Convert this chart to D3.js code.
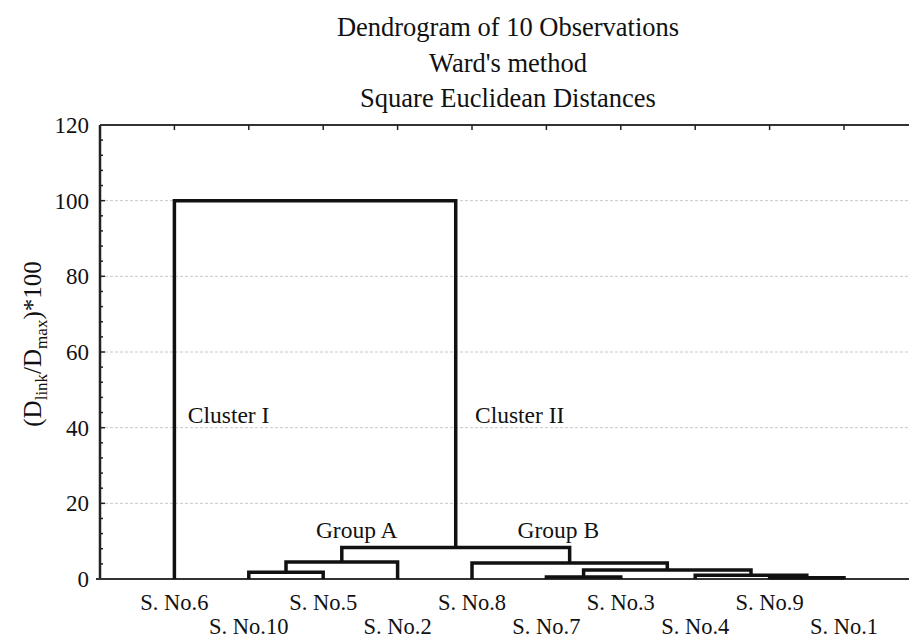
<!DOCTYPE html>
<html>
<head>
<meta charset="utf-8">
<script src="https://cdn.jsdelivr.net/npm/d3@7"></script>
<style>
  body { margin: 0; background: #fff; }
  svg text { font-family: "Liberation Serif", "Times New Roman", serif; fill: #111; }
</style>
</head>
<body>
<div id="chart"></div>
<script>
// leaves in plotted order
var leaves = ["S. No.6", "S. No.10", "S. No.5", "S. No.2", "S. No.8",
              "S. No.7", "S. No.3", "S. No.4", "S. No.9", "S. No.1"];

// linkage: ids 0-9 are leaves, every merge gets the next id (10, 11, ...)
var linkLeft   = [8, 5, 7, 1, 11, 4, 13, 16, 0];
var linkRight  = [9, 6, 10, 2, 12, 14, 3, 15, 17];
var linkHeight = [0.35, 0.5, 1.0, 1.8, 2.4, 4.2, 4.5, 8.3, 100];

var yTicks = [0, 20, 40, 60, 80, 100, 120];
var titleLines = ["Dendrogram of 10 Observations", "Ward's method", "Square Euclidean Distances"];

// annotations: [text, leaf-slot position, height]
var notes = [["Cluster I", 1.18, 41.2, "start"], ["Cluster II", 5.04, 41.2, "start"],
             ["Group A", 3.45, 10.8, "middle"], ["Group B", 6.16, 10.8, "middle"]];

var W = 909, H = 639;
margin = {top: 125, left: 100, bottom: 60};
var plotBottom = 579;

var svg = d3.select("#chart").append("svg")
    .attr("width", W)
    .attr("height", H);

var x = d3.scaleLinear().domain([0, 11]).range([margin.left, margin.left + 11 * 74.4]);
var y = d3.scaleLinear().domain([0, 120]).range([plotBottom, margin.top]);

// title
svg.selectAll(".title")
    .data(titleLines)
    .enter().append("text")
    .attr("class", "title")
    .attr("x", 508)
    .attr("y", function(d, i){ return 36 + i * 35.5; })
    .attr("text-anchor", "middle")
    .style("font-size", "26.5px")
    .text(function(d){ return d; });

// gridlines
svg.append("g")
    .selectAll("line")
    .data(yTicks.filter(function(d){ return d > 0 && d < 120; }))
    .enter().append("line")
    .attr("x1", x(0))
    .attr("x2", W)
    .attr("y1", function(d){ return y(d); })
    .attr("y2", function(d){ return y(d); })
    .style("stroke", "#c8c8c8")
    .style("stroke-width", 1)
    .style("stroke-dasharray", "3,2");

// left axis: major labels + inward minor ticks
var yAxis = d3.axisLeft(y).tickValues(yTicks).tickSize(0).tickPadding(11);
var yg = svg.append("g")
    .attr("transform", "translate(" + margin.left + ",0)")
    .call(yAxis);
yg.select(".domain").remove();
yg.selectAll("text")
    .style("font-size", "23px")
    .style("font-family", "Liberation Serif, serif")
    .attr("fill", "#111");

var minor = d3.range(0, 121, 4);
svg.append("g")
    .selectAll("line")
    .data(minor)
    .enter().append("line")
    .attr("x1", x(0))
    .attr("x2", function(d){ return x(0) + (d % 20 == 0 ? 5 : 3); })
    .attr("y1", function(d){ return y(d); })
    .attr("y2", function(d){ return y(d); })
    .style("stroke", "#222")
    .style("stroke-width", 1.5);

// frame: left, top, bottom
svg.append("line")
    .attr("x1", x(0)).attr("x2", x(0))
    .attr("y1", y(120)).attr("y2", y(0))
    .style("stroke", "#222").style("stroke-width", 2.5);
svg.append("line")
    .attr("x1", x(0)).attr("x2", W)
    .attr("y1", y(120)).attr("y2", y(120))
    .style("stroke", "#333").style("stroke-width", 2);
svg.append("line")
    .attr("x1", x(0) - 4).attr("x2", W)
    .attr("y1", y(0)).attr("y2", y(0))
    .style("stroke", "#333").style("stroke-width", 2);

// top ticks at leaf positions
svg.append("g")
    .selectAll("line")
    .data(leaves)
    .enter().append("line")
    .attr("x1", function(d, i){ return x(i + 1); })
    .attr("x2", function(d, i){ return x(i + 1); })
    .attr("y1", y(120))
    .attr("y2", y(120) + 5)
    .style("stroke", "#222")
    .style("stroke-width", 1.5);

// leaf labels, staggered in two rows
svg.append("g")
    .selectAll("text")
    .data(leaves)
    .enter().append("text")
    .attr("x", function(d, i){ return x(i + 1); })
    .attr("y", function(d, i){ return i % 2 == 0 ? 610 : 634; })
    .attr("text-anchor", "middle")
    .style("font-size", "22.5px")
    .text(function(d){ return d; });

// build node positions from the linkage
var nodeX = leaves.map(function(d, i){ return x(i + 1); });
var nodeH = leaves.map(function(){ return 0; });
linkHeight.forEach(function(h, k){
    nodeX.push((nodeX[linkLeft[k]] + nodeX[linkRight[k]]) / 2);
    nodeH.push(h);
});

svg.append("g")
    .selectAll("path")
    .data(linkHeight)
    .enter().append("path")
    .attr("d", function(h, k){
        var a = linkLeft[k], b = linkRight[k];
        return "M" + nodeX[a] + "," + y(nodeH[a]) +
               "V" + y(h) + "H" + nodeX[b] + "V" + y(nodeH[b]);
    })
    .style("fill", "none")
    .style("stroke", "#111")
    .style("stroke-width", 3.5)
    .style("stroke-linejoin", "miter");

// annotations
svg.selectAll(".note")
    .data(notes)
    .enter().append("text")
    .attr("class", "note")
    .attr("x", function(d){ return x(d[1]); })
    .attr("y", function(d){ return y(d[2]); })
    .attr("text-anchor", function(d){ return d[3]; })
    .style("font-size", "23.5px")
    .text(function(d){ return d[0]; });

// y axis title with subscripts
var yt = svg.append("text")
    .attr("transform", "translate(41,344) rotate(-90)")
    .attr("text-anchor", "middle")
    .style("font-size", "25px");
yt.append("tspan").text("(D");
yt.append("tspan").attr("dy", 6).style("font-size", "17px").text("link");
yt.append("tspan").attr("dy", -6).text("/D");
yt.append("tspan").attr("dy", 6).style("font-size", "17px").text("max");
yt.append("tspan").attr("dy", -6).text(")*100");
</script>
</body>
</html>
